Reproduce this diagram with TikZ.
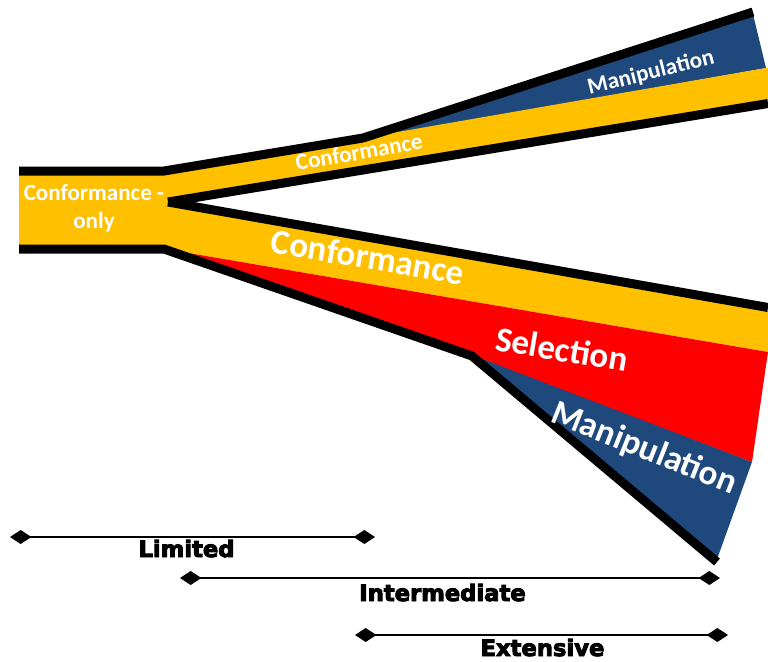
\documentclass[tikz,border=0pt]{standalone}
\usepackage{fontspec}
\setmainfont{Carlito}
\newfontfamily\rulerfont{DejaVu Sans Bold}[FakeBold=4]
\usetikzlibrary{arrows.meta}
\definecolor{bandyellow}{RGB}{255,192,0}
\definecolor{bandred}{RGB}{255,0,0}
\definecolor{bandblue}{RGB}{31,73,125}
\tikzset{
  edge/.style={line width=6.75pt, line join=miter, line cap=butt, black},
  bandlabel/.style={text=white, inner sep=0pt},
  small/.style={font=\bfseries\fontsize{17.3}{21}\selectfont},
  large/.style={font=\bfseries\fontsize{26.3}{30}\selectfont},
  span/.style={line width=1.9pt,
    {Diamond[length=16pt,width=10.5pt]}-{Diamond[length=16pt,width=10.5pt]}},
  spanlabel/.style={font=\rulerfont\fontsize{17}{20}\selectfont,
    anchor=base, inner sep=0pt}
}
\begin{document}
\begin{tikzpicture}[x=0.75pt,y=-0.75pt]
\useasboundingbox (0,0) rectangle (768,661);

% trunk
\fill[bandyellow] (19,171) rectangle (168,249);

% upper branch
\fill[bandblue] (360,140) -- (752,10) -- (766,68) -- cycle;
\fill[bandyellow] (163,171) -- (363,138) -- (766,68) -- (768,68)
  -- (768,104) -- (168,202) -- cycle;

% lower branch
\fill[bandyellow] (168,202) -- (768,308) -- (768,352) -- (165,249) -- cycle;
\fill[bandred] (165,249) -- (768,352) -- (752,462) -- (476,358) -- cycle;
\fill[bandblue] (472,355) -- (752,462) -- (716,562) -- cycle;

% outlines
\draw[edge] (19,171) -- (164,171) -- (363,138) -- (753,12);
\draw[edge] (19,249) -- (164,249) -- (472,356) -- (717,562);
\draw[edge] (168,202) -- (768,103.5);
\draw[edge] (168,202) -- (768,307.5);

% band labels
\node[bandlabel, small, align=center] (trunk) at (94,208) {Conformance -\\only};
\node[bandlabel, small, rotate=10] (confA) at (359,152) {Conformance};
\node[bandlabel, small, rotate=14] (manipA) at (651,73) {Manipulation};
\node[bandlabel, large, rotate=-9.5] (confB) at (368,257) {Conformance};
\node[bandlabel, large, rotate=-9.5] (sel) at (562,349) {Selection};
\node[bandlabel, large, rotate=-21.7] (manipB) at (644,449) {Manipulation};

% extent scales
\coordinate (limL) at (10,537);
\coordinate (limR) at (375,537);
\coordinate (intL) at (180,578);
\coordinate (intR) at (720,578);
\coordinate (extL) at (355,635);
\coordinate (extR) at (728,635);
\draw[span] (limL) -- (limR);
\draw[span] (intL) -- (intR);
\draw[span] (extL) -- (extR);
\node[spanlabel] (lim) at (186.5,557) {Limited};
\node[spanlabel] (inter) at (442.5,601) {Intermediate};
\node[spanlabel] (ext) at (542.5,656) {Extensive};
\end{tikzpicture}
\end{document}
